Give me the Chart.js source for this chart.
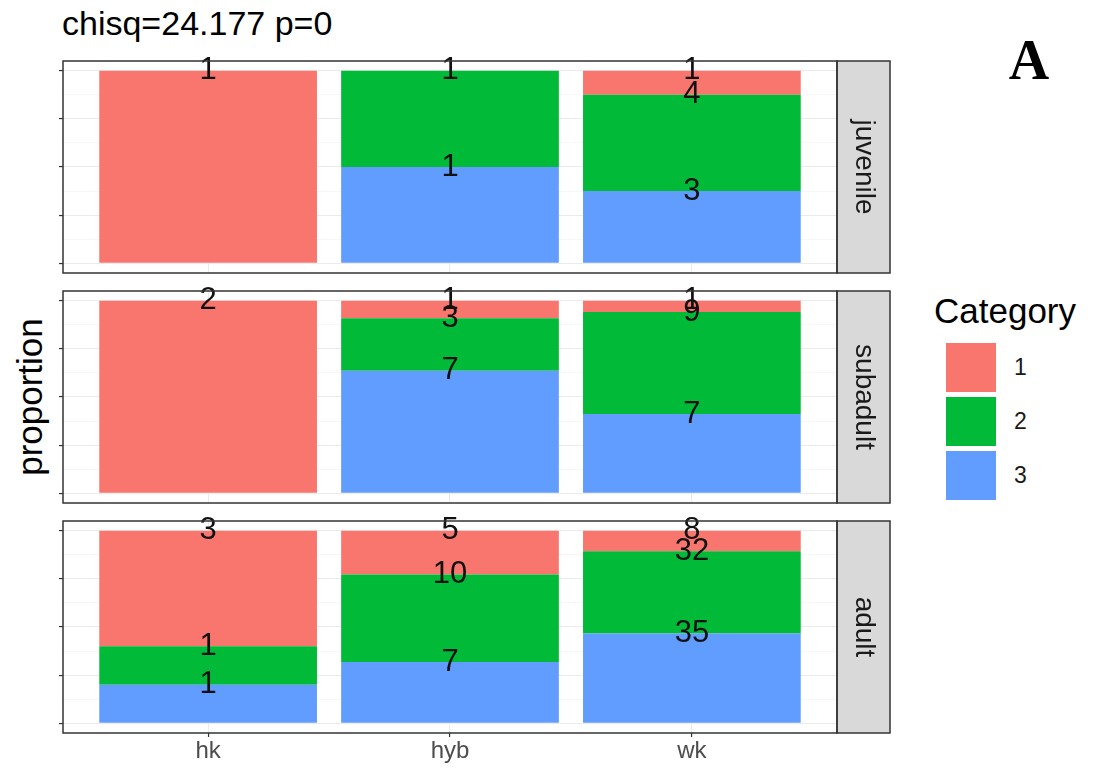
<!DOCTYPE html>
<html>
<head>
<meta charset="utf-8">
<script src="https://cdn.jsdelivr.net/npm/chart.js@4.4.0/dist/chart.umd.min.js"></script>
<style>
  body { margin: 0; background: #fff; font-family: "Liberation Sans", Arial, sans-serif; }
  #page { position: relative; width: 1094px; height: 778px; overflow: hidden; }
  canvas { position: absolute; left: 0; }
  #title { position: absolute; left: 62px; top: 8px; font-size: 34px; line-height: 30px; color: #000; white-space: nowrap; }
  #ylab { position: absolute; left: 30px; top: 397px; font-size: 35px; color: #000; white-space: nowrap;
          transform: translate(-50%, -50%) rotate(-90deg); }
  #legend { position: absolute; left: 934px; top: 294px; }
  #legend .ttl { font-size: 35px; line-height: 34px; white-space: nowrap; }
  #legend .row { position: absolute; left: 12px; width: 150px; height: 50px; }
  #legend .key { position: absolute; left: 0; top: 0; width: 50px; height: 49px; }
  #legend .lab { position: absolute; left: 68px; top: 0; line-height: 49px; font-size: 23px; color: #1A1A1A; }
  #tag { position: absolute; left: 1029px; top: 30px; transform: translateX(-50%);
         font-family: "Liberation Serif", "DejaVu Serif", serif; font-weight: bold; font-size: 56px; line-height: 60px; }
</style>
</head>
<body>
<div id="page">
  <div id="title">chisq=24.177 p=0</div>
  <div id="ylab">proportion</div>
  <canvas id="c0" width="900" height="280" style="top:0px"></canvas>
  <canvas id="c1" width="900" height="230" style="top:280px"></canvas>
  <canvas id="c2" width="900" height="268" style="top:510px"></canvas>
  <div id="legend"><div class="ttl">Category</div></div>
  <div id="tag">A</div>
</div>
<script>
// x groups, legend categories and facet rows
const groups = ['hk', 'hyb', 'wk'];
const categories = ['1', '2', '3'];
const colors = ['#F8766D', '#00BA38', '#619CFF'];
const stages = ['juvenile', 'subadult', 'adult'];

// counts per category (in order hk, hyb, wk)
const juvenile1 = [1, 0, 1];
const juvenile2 = [0, 1, 4];
const juvenile3 = [0, 1, 3];
const subadult1 = [2, 1, 1];
const subadult2 = [0, 3, 9];
const subadult3 = [0, 7, 7];
const adult1 = [3, 5, 8];
const adult2 = [1, 10, 32];
const adult3 = [1, 7, 35];

const stageCounts = [
  [juvenile1, juvenile2, juvenile3],
  [subadult1, subadult2, subadult3],
  [adult1, adult2, adult3]
];

// layout of each facet canvas
const layouts = [
  { id: 'c0', padTop: 61, padBottom: 7, showX: false },
  { id: 'c1', padTop: 11, padBottom: 7, showX: false },
  { id: 'c2', padTop: 11, padBottom: 5, showX: true }
];

function isMajor(v) {
  return Math.abs(v * 4 - Math.round(v * 4)) < 1e-6;
}

const panelPlugin = {
  id: 'panel',
  afterDatasetsDraw(chart) {
    const ctx = chart.ctx;
    ctx.save();
    ctx.font = '31px "Liberation Sans"';
    ctx.fillStyle = '#111';
    ctx.textAlign = 'center';
    ctx.textBaseline = 'middle';
    chart.data.datasets.forEach((ds, i) => {
      chart.getDatasetMeta(i).data.forEach((bar, j) => {
        if (ds.counts[j] > 0) ctx.fillText(String(ds.counts[j]), bar.x, bar.y);
      });
    });
    ctx.restore();
  },
  afterDraw(chart, args, opts) {
    const { ctx, chartArea: a } = chart;
    const h = a.bottom - a.top;
    ctx.save();
    ctx.fillStyle = '#D9D9D9';
    ctx.fillRect(a.right, a.top, 53, h);
    ctx.strokeStyle = '#333333';
    ctx.lineWidth = 1.5;
    ctx.strokeRect(a.left, a.top, a.right - a.left, h);
    ctx.strokeRect(a.right, a.top, 53, h);
    ctx.translate(a.right + 26.5, a.top + h / 2);
    ctx.rotate(Math.PI / 2);
    ctx.font = '28px "Liberation Sans"';
    ctx.fillStyle = '#1A1A1A';
    ctx.textAlign = 'center';
    ctx.textBaseline = 'middle';
    ctx.fillText(opts.label, 0, 0);
    ctx.restore();
  }
};

function makeDatasets(counts) {
  const totals = groups.map((g, j) => counts.reduce((s, c) => s + c[j], 0));
  // category 3 at the bottom, 1 on top
  return [2, 1, 0].map(k => ({
    label: categories[k],
    counts: counts[k],
    data: groups.map((g, j) => ({ x: j + 1, y: counts[k][j] / totals[j] })),
    backgroundColor: colors[k],
    borderWidth: 0,
    categoryPercentage: 1,
    barPercentage: 0.9
  }));
}

stages.forEach((stage, s) => {
  const lay = layouts[s];
  new Chart(document.getElementById(lay.id), {
    type: 'bar',
    data: { datasets: makeDatasets(stageCounts[s]) },
    plugins: [panelPlugin],
    options: {
      responsive: false,
      animation: false,
      layout: { padding: { left: 59, right: 63, top: lay.padTop, bottom: lay.padBottom } },
      plugins: {
        legend: { display: false },
        tooltip: { enabled: false },
        panel: { label: stage }
      },
      scales: {
        x: {
          type: 'linear',
          stacked: true,
          offset: false,
          min: 0.4,
          max: 3.6,
          border: { display: false },
          grid: {
            offset: false,
            color: '#EBEBEB',
            lineWidth: 1.1,
            drawTicks: lay.showX,
            tickLength: 4,
            tickColor: '#333333',
            tickWidth: 1.2
          },
          ticks: {
            display: lay.showX,
            stepSize: 1,
            includeBounds: false,
            maxRotation: 0,
            padding: 0,
            color: '#4D4D4D',
            font: { family: 'Liberation Sans', size: 24 },
            callback: v => groups[v - 1]
          },
          afterFit: sc => { sc.height = lay.showX ? 40 : 0; }
        },
        y: {
          stacked: true,
          min: -0.05,
          max: 1.05,
          border: { display: false },
          grid: {
            color: c => isMajor(c.tick.value) ? '#EBEBEB' : '#F4F4F4',
            lineWidth: c => isMajor(c.tick.value) ? 1.1 : 0.7,
            tickLength: 4,
            tickColor: c => isMajor(c.tick.value) ? '#333333' : 'rgba(0,0,0,0)',
            tickWidth: 1.2
          },
          ticks: { display: false, stepSize: 0.125, includeBounds: false },
          afterFit: sc => { sc.width = 4; }
        }
      }
    }
  });
});

// legend
const legend = document.getElementById('legend');
categories.forEach((c, k) => {
  const row = document.createElement('div');
  row.className = 'row';
  row.style.top = (49 + k * 54) + 'px';
  row.innerHTML = '<div class="key" style="background:' + colors[k] + '"></div><div class="lab">' + c + '</div>';
  legend.appendChild(row);
});
</script>
</body>
</html>
